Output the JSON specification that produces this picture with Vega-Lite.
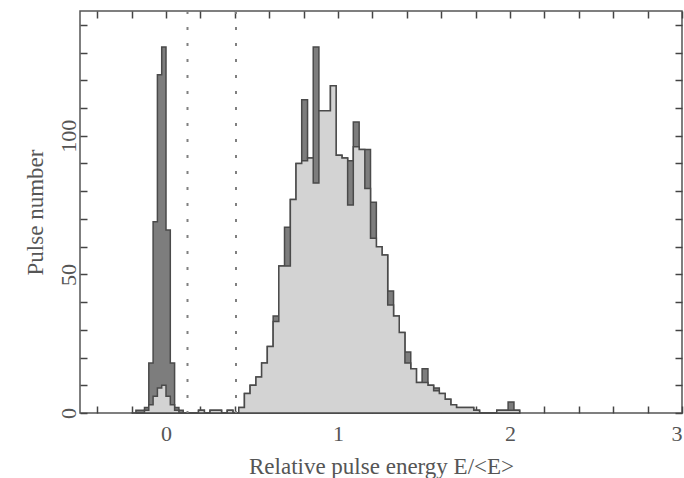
{
  "$schema": "https://vega.github.io/schema/vega-lite/v6.json",
  "width": 602,
  "height": 402,
  "autosize": {"type": "none"},
  "padding": {"left": 80, "top": 11, "right": 2, "bottom": 65},
  "background": "white",
  "config": {
    "view": {"stroke": "#555", "strokeWidth": 1.5},
    "font": "Liberation Serif",
    "axis": {
      "grid": false,
      "zindex": 1,
      "ticks": true,
      "domain": false,
      "offset": -7,
      "tickColor": "#444",
      "tickWidth": 1.5,
      "tickSize": 7,
      "labelColor": "#555",
      "titleColor": "#555",
      "labelFont": "Liberation Serif",
      "titleFont": "Liberation Serif",
      "labelFontSize": 22,
      "titleFontSize": 23,
      "titleFontWeight": "normal",
      "labelFlush": false,
      "labelOverlap": false
    }
  },
  "datasets": {
    "dark": [
      {"E": -0.2, "n": 0}, {"E": -0.175, "n": 1}, {"E": -0.15, "n": 1}, {"E": -0.125, "n": 2},
      {"E": -0.1, "n": 18}, {"E": -0.075, "n": 69}, {"E": -0.05, "n": 122}, {"E": -0.025, "n": 132},
      {"E": 0, "n": 66}, {"E": 0.025, "n": 18}, {"E": 0.05, "n": 2}, {"E": 0.075, "n": 1}, {"E": 0.1, "n": 0},
      {"E": 0.189, "n": 1}, {"E": 0.223, "n": 0}, {"E": 0.256, "n": 1}, {"E": 0.289, "n": 1},
      {"E": 0.323, "n": 0}, {"E": 0.356, "n": 1}, {"E": 0.389, "n": 0}, {"E": 0.423, "n": 2},
      {"E": 0.456, "n": 7}, {"E": 0.489, "n": 10}, {"E": 0.523, "n": 13}, {"E": 0.556, "n": 18},
      {"E": 0.589, "n": 24}, {"E": 0.623, "n": 35}, {"E": 0.656, "n": 53}, {"E": 0.689, "n": 67},
      {"E": 0.723, "n": 77}, {"E": 0.756, "n": 90}, {"E": 0.789, "n": 113}, {"E": 0.823, "n": 92},
      {"E": 0.856, "n": 132}, {"E": 0.889, "n": 109}, {"E": 0.923, "n": 109}, {"E": 0.956, "n": 118},
      {"E": 0.989, "n": 93}, {"E": 1.023, "n": 92}, {"E": 1.056, "n": 91}, {"E": 1.089, "n": 105},
      {"E": 1.123, "n": 95}, {"E": 1.156, "n": 95}, {"E": 1.189, "n": 76}, {"E": 1.223, "n": 60},
      {"E": 1.256, "n": 57}, {"E": 1.289, "n": 44}, {"E": 1.323, "n": 35}, {"E": 1.356, "n": 29},
      {"E": 1.389, "n": 22}, {"E": 1.423, "n": 16}, {"E": 1.456, "n": 11}, {"E": 1.489, "n": 16},
      {"E": 1.523, "n": 10}, {"E": 1.556, "n": 9}, {"E": 1.589, "n": 7}, {"E": 1.623, "n": 5},
      {"E": 1.656, "n": 3}, {"E": 1.689, "n": 2}, {"E": 1.723, "n": 2}, {"E": 1.756, "n": 2},
      {"E": 1.789, "n": 1}, {"E": 1.823, "n": 0}, {"E": 1.856, "n": 0}, {"E": 1.889, "n": 0},
      {"E": 1.923, "n": 1}, {"E": 1.956, "n": 1}, {"E": 1.989, "n": 4}, {"E": 2.023, "n": 1},
      {"E": 2.056, "n": 0}
    ],
    "light": [
      {"E": -0.175, "n": 0}, {"E": -0.15, "n": 0}, {"E": -0.125, "n": 1}, {"E": -0.1, "n": 3},
      {"E": -0.075, "n": 6}, {"E": -0.05, "n": 9}, {"E": -0.025, "n": 10}, {"E": 0, "n": 6},
      {"E": 0.025, "n": 3}, {"E": 0.05, "n": 1}, {"E": 0.075, "n": 0}, {"E": 0.1, "n": 0},
      {"E": 0.189, "n": 1}, {"E": 0.223, "n": 0}, {"E": 0.256, "n": 1}, {"E": 0.289, "n": 1},
      {"E": 0.323, "n": 0}, {"E": 0.356, "n": 1}, {"E": 0.389, "n": 0}, {"E": 0.423, "n": 2},
      {"E": 0.456, "n": 7}, {"E": 0.489, "n": 10}, {"E": 0.523, "n": 13}, {"E": 0.556, "n": 18},
      {"E": 0.589, "n": 24}, {"E": 0.623, "n": 33}, {"E": 0.656, "n": 53}, {"E": 0.689, "n": 53},
      {"E": 0.723, "n": 77}, {"E": 0.756, "n": 90}, {"E": 0.789, "n": 91}, {"E": 0.823, "n": 92},
      {"E": 0.856, "n": 83}, {"E": 0.889, "n": 109}, {"E": 0.923, "n": 109}, {"E": 0.956, "n": 118},
      {"E": 0.989, "n": 93}, {"E": 1.023, "n": 92}, {"E": 1.056, "n": 75}, {"E": 1.089, "n": 96},
      {"E": 1.123, "n": 95}, {"E": 1.156, "n": 81}, {"E": 1.189, "n": 63}, {"E": 1.223, "n": 60},
      {"E": 1.256, "n": 57}, {"E": 1.289, "n": 39}, {"E": 1.323, "n": 35}, {"E": 1.356, "n": 29},
      {"E": 1.389, "n": 18}, {"E": 1.423, "n": 16}, {"E": 1.456, "n": 11}, {"E": 1.489, "n": 11},
      {"E": 1.523, "n": 10}, {"E": 1.556, "n": 8}, {"E": 1.589, "n": 7}, {"E": 1.623, "n": 5},
      {"E": 1.656, "n": 3}, {"E": 1.689, "n": 2}, {"E": 1.723, "n": 2}, {"E": 1.756, "n": 2},
      {"E": 1.789, "n": 1}, {"E": 1.823, "n": 0}, {"E": 1.856, "n": 0}, {"E": 1.889, "n": 0},
      {"E": 1.923, "n": 1}, {"E": 1.956, "n": 1}, {"E": 1.989, "n": 1}, {"E": 2.023, "n": 1},
      {"E": 2.056, "n": 0}
    ],
    "cuts": [{"E": 0.125}, {"E": 0.407}]
  },
  "layer": [
    {
      "data": {"name": "dark"},
      "mark": {"type": "area", "interpolate": "step-after", "fill": "#7d7d7d", "stroke": "#4a4a4a", "strokeWidth": 1.5},
      "encoding": {
        "x": {
          "field": "E", "type": "quantitative",
          "scale": {"domain": [-0.5, 3], "nice": false, "zero": false},
          "axis": {
            "orient": "bottom",
            "values": [-0.4, -0.2, 0, 0.2, 0.4, 0.6, 0.8, 1, 1.2, 1.4, 1.6, 1.8, 2, 2.2, 2.4, 2.6, 2.8, 3],
            "labelExpr": "abs(datum.value - round(datum.value)) < 0.001 ? format(datum.value, 'd') : ''",
            "labelFlush": true,
            "labelPadding": 10,
            "title": "Relative pulse energy E/<E>",
            "titleY": 67,
            "titleBaseline": "alphabetic"
          }
        },
        "y": {
          "field": "n", "type": "quantitative",
          "scale": {"domain": [0, 145], "nice": false},
          "axis": {
            "orient": "left",
            "values": [0, 10, 20, 30, 40, 50, 60, 70, 80, 90, 100, 110, 120, 130, 140],
            "labelExpr": "datum.value % 50 === 0 ? datum.label : ''",
            "labelAngle": -90,
            "labelAlign": "center",
            "labelBaseline": "alphabetic",
            "labelPadding": 5,
            "title": "Pulse number",
            "titleX": -45,
            "titleBaseline": "alphabetic"
          }
        }
      }
    },
    {
      "data": {"name": "light"},
      "mark": {"type": "area", "interpolate": "step-after", "fill": "#d3d3d3", "stroke": "#4a4a4a", "strokeWidth": 1.5},
      "encoding": {
        "x": {
          "field": "E", "type": "quantitative",
          "axis": {
            "orient": "top",
            "values": [-0.4, -0.2, 0, 0.2, 0.4, 0.6, 0.8, 1, 1.2, 1.4, 1.6, 1.8, 2, 2.2, 2.4, 2.6, 2.8, 3],
            "labels": false,
            "title": null
          }
        },
        "y": {
          "field": "n", "type": "quantitative",
          "axis": {
            "orient": "right",
            "values": [0, 10, 20, 30, 40, 50, 60, 70, 80, 90, 100, 110, 120, 130, 140],
            "labels": false,
            "title": null
          }
        }
      }
    },
    {
      "data": {"name": "cuts"},
      "mark": {"type": "rule", "color": "#808080", "strokeDash": [3, 13], "strokeWidth": 2},
      "encoding": {
        "x": {"field": "E", "type": "quantitative", "axis": null}
      }
    }
  ],
  "resolve": {"axis": {"x": "independent", "y": "independent"}}
}
